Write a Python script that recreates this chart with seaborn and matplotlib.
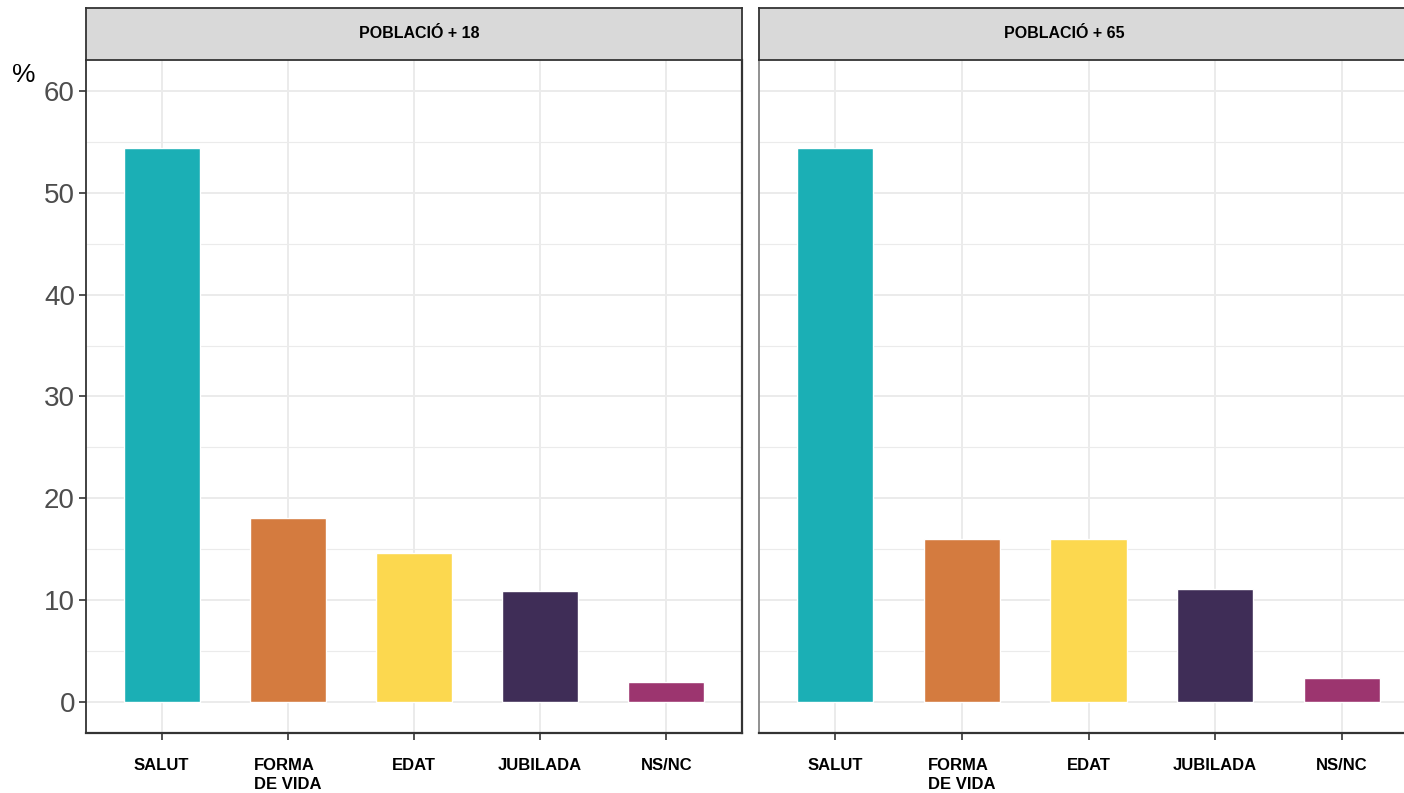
import pandas as pd
import seaborn as sns
import matplotlib.pyplot as plt
from matplotlib.ticker import MultipleLocator

# Data
categories = ['SALUT', 'FORMA\nDE VIDA', 'EDAT', 'JUBILADA', 'NS/NC']
pob_18 = [54.4, 18.1, 14.6, 10.9, 2.0]
pob_65 = [54.4, 16.0, 16.0, 11.1, 2.4]
panels = ['POBLACIÓ + 18', 'POBLACIÓ + 65']
colors = ['#1BAFB5', '#D47B3F', '#FCD84F', '#3F2D57', '#9C356F']

df = pd.concat([
    pd.DataFrame({'cat': categories, 'pct': pob_18, 'panel': panels[0]}),
    pd.DataFrame({'cat': categories, 'pct': pob_65, 'panel': panels[1]}),
])

sns.set_style('white')
plt.rcParams['font.family'] = ['Liberation Sans', 'DejaVu Sans']

W, H = 1404, 793
fig = plt.figure(figsize=(W / 100, H / 100), dpi=100)

# panel boxes in pixels: (left, width)
boxes = [(86, 656), (759, 659)]
strip_text_x = [419, 1064]
top, bottom = 60, 733

for i, (panel, (x0, w)) in enumerate(zip(panels, boxes)):
    ax = fig.add_axes([x0 / W, 1 - bottom / H, w / W, (bottom - top) / H])
    sub = df[df['panel'] == panel]
    sns.barplot(data=sub, x='cat', y='pct', hue='cat', palette=colors,
                width=0.6, legend=False, ax=ax, saturation=1, zorder=3)
    ax.set_xlim(-0.6, 4.6)
    ax.set_ylim(-3.05, 63.05)
    ax.yaxis.set_major_locator(MultipleLocator(10))
    ax.yaxis.set_minor_locator(MultipleLocator(5))
    ax.grid(True, which='major', color='#EBEBEB', linewidth=1.4, zorder=0)
    ax.grid(True, which='minor', axis='y', color='#EBEBEB', linewidth=0.8, zorder=0)
    ax.set_axisbelow(True)
    ax.set_xlabel('')
    ax.set_ylabel('')
    for s in ax.spines.values():
        s.set_visible(False)
    ax.spines['bottom'].set_visible(True)
    ax.spines['bottom'].set_color('#333333')
    ax.spines['bottom'].set_linewidth(1.6)
    ax.spines['left'].set_visible(True)
    ax.spines['left'].set_color('#333333' if i == 0 else '#888888')
    ax.spines['left'].set_linewidth(1.3)
    if i == 0:
        ax.spines['right'].set_visible(True)
        ax.spines['right'].set_color('#333333')
        ax.spines['right'].set_linewidth(1.6)
    ax.tick_params(axis='x', length=5, width=1.2, color='#333333', pad=13,
                   bottom=True)
    for lab in ax.get_xticklabels():
        lab.set_fontsize(12)
        lab.set_fontweight('bold')
        lab.set_color('black')
        lab.set_linespacing(1.3)
        lab.set_multialignment('left')
    if i == 0:
        ax.tick_params(axis='y', which='major', length=5, width=1.2,
                       color='#333333', labelsize=20, labelcolor='#4D4D4D',
                       pad=3, left=True)
        ax.tick_params(axis='y', which='minor', length=0)
    else:
        ax.tick_params(axis='y', which='both', length=0, labelleft=False)

    # facet strip
    sx = fig.add_axes([x0 / W, 1 - top / H, w / W, 52 / H])
    sx.set_facecolor('#D9D9D9')
    sx.set_xticks([])
    sx.set_yticks([])
    for s in sx.spines.values():
        s.set_color('#333333')
        s.set_linewidth(1.3)
    fig.text(strip_text_x[i] / W, 1 - 33 / H, panel, ha='center', va='center',
             fontsize=11.5, fontweight='bold', color='black')

fig.text(24 / W, 1 - 75 / H, '%', ha='center', va='center', fontsize=19,
         color='black')

fig.savefig('out.png', dpi=100)
